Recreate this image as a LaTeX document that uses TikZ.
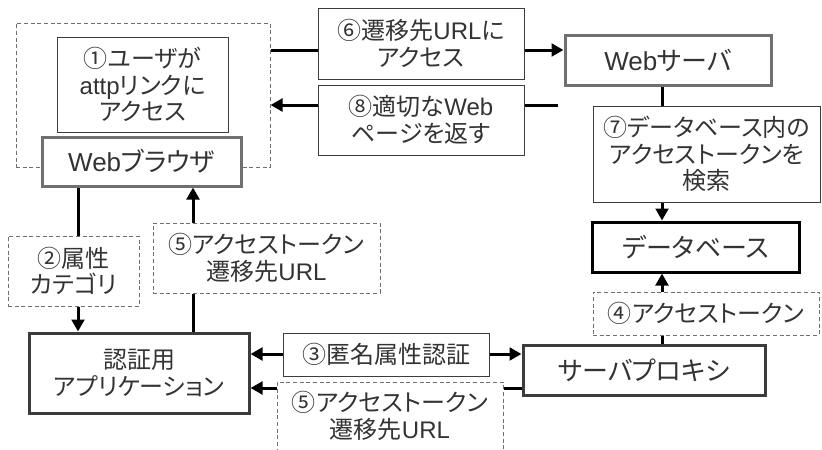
\documentclass[tikz,border=0pt]{standalone}
\usepackage{fontspec}
\setmainfont{Liberation Sans}
\newfontfamily\jp[RawFeature=+palt]{Noto Sans CJK JP}
\newfontfamily\lat{Liberation Sans}
\usetikzlibrary{arrows.meta}
\definecolor{txt}{HTML}{333333}
\definecolor{bgray}{HTML}{707070}
\definecolor{dgray}{HTML}{3C3C3C}
\newcommand{\W}[1]{{\lat #1}}
\begin{document}
\begin{tikzpicture}[x=0.75pt,y=-0.75pt,
  box/.style n args={4}{minimum width={(#3-#1)*0.75pt}, minimum height={(#4-#2)*0.75pt}, at={({(#1+#3)/2},{(#2+#4)/2})}},
  lbl/.style={font=\jp\fontsize{18}{20}\selectfont, text=txt, align=center, inner sep=0pt},
  big/.style={font=\jp\fontsize{19.5}{21}\selectfont},
  thinbox/.style={lbl, draw=dgray, line width=0.75pt, fill=white},
  dashbox/.style={lbl, draw=bgray, line width=0.75pt, dash pattern=on 3pt off 2pt, fill=white},
  grayframe/.style={lbl, big, draw=bgray, line width=2.25pt, fill=white},
  darkframe/.style={lbl, draw=dgray, line width=2.25pt, fill=white},
  blackframe/.style={lbl, big, draw=black, line width=2.25pt, fill=white},
  conn/.style={line width=2.25pt, draw=black},
  arr/.style={conn, -{Triangle[length=9pt,width=9.5pt]}},
]
\fill[white] (0,0) rectangle (822,450);
\useasboundingbox (0,0) rectangle (822,450);

\node[dashbox, box={16}{23}{270}{167}] (grp) {};
\node[thinbox, box={57}{37}{228}{132}] (n1) {①ユーザが\\\W{attp}リンクに\\アクセス};
\node[grayframe, box={42}{137}{241}{186}] (wb) {\W{Web}ブラウザ};
\node[thinbox, box={318}{8}{524}{79}] (e6) {⑥遷移先\W{URL}に\\アクセス};
\node[thinbox, box={318}{85}{524}{155}] (e8) {⑧適切な\W{Web}\\ページを返す};
\node[grayframe, box={565}{35}{771}{85}] (ws) {\W{Web}サーバ};
\node[thinbox, box={593}{106}{820.5}{202}] (e7) {⑦データベース内の\\アクセストークンを\\検索};
\node[blackframe, box={592}{222}{799}{272}] (db) {データベース};
\node[dashbox, box={593}{292}{819}{335}] (e4) {④アクセストークン};
\node[darkframe, big, box={523}{345}{765}{395}] (sp) {サーバプロキシ};
\node[thinbox, box={283}{333}{489}{376}] (e3) {③匿名属性認証};
\node[dashbox, box={277}{382}{503}{470}] (e5b) {};
\node[lbl] (e5bt) at (390,416) {⑤アクセストークン\\遷移先\W{URL}};
\node[darkframe, box={29}{333}{249}{413}] (app) {認証用\\アプリケーション};
\node[dashbox, box={8}{236}{139}{306}] (e2) {②属性\\カテゴリ};
\node[dashbox, box={153}{223}{380}{293}] (e5a) {⑤アクセストークン\\遷移先\W{URL}};

\coordinate (y50) at (0,50);
\draw[conn] (grp.east |- y50) -- (e6.west |- y50);
\draw[arr] (e6.east |- y50) -- (ws.west |- y50);
\coordinate (ws8) at (558,105);
\draw[conn] (ws8) -- (e8.east |- ws8);
\draw[arr] (e8.west |- ws8) -- (grp.east |- ws8);
\coordinate (x662) at (662,0);
\draw[conn] (ws.south -| x662) -- (e7.north -| x662);
\draw[arr] (e7.south -| x662) -- (db.north -| x662);
\draw[conn] (sp.north -| x662) -- (e4.south -| x662);
\draw[arr] (e4.north -| x662) -- (db.south -| x662);
\coordinate (y355) at (0,354);
\draw[arr] (e3.west |- y355) -- (app.east |- y355);
\draw[arr] (e3.east |- y355) -- (sp.west |- y355);
\coordinate (y388) at (0,388);
\draw[conn] (sp.west |- y388) -- (e5b.east |- y388);
\draw[arr] (e5b.west |- y388) -- (app.east |- y388);
\coordinate (x78) at (78,0);
\draw[conn] (wb.south -| x78) -- (e2.north -| x78);
\draw[arr] (e2.south -| x78) -- (app.north -| x78);
\coordinate (x193) at (193,0);
\draw[conn] (app.north -| x193) -- (e5a.south -| x193);
\draw[arr] (e5a.north -| x193) -- (wb.south -| x193);
\end{tikzpicture}
\end{document}
